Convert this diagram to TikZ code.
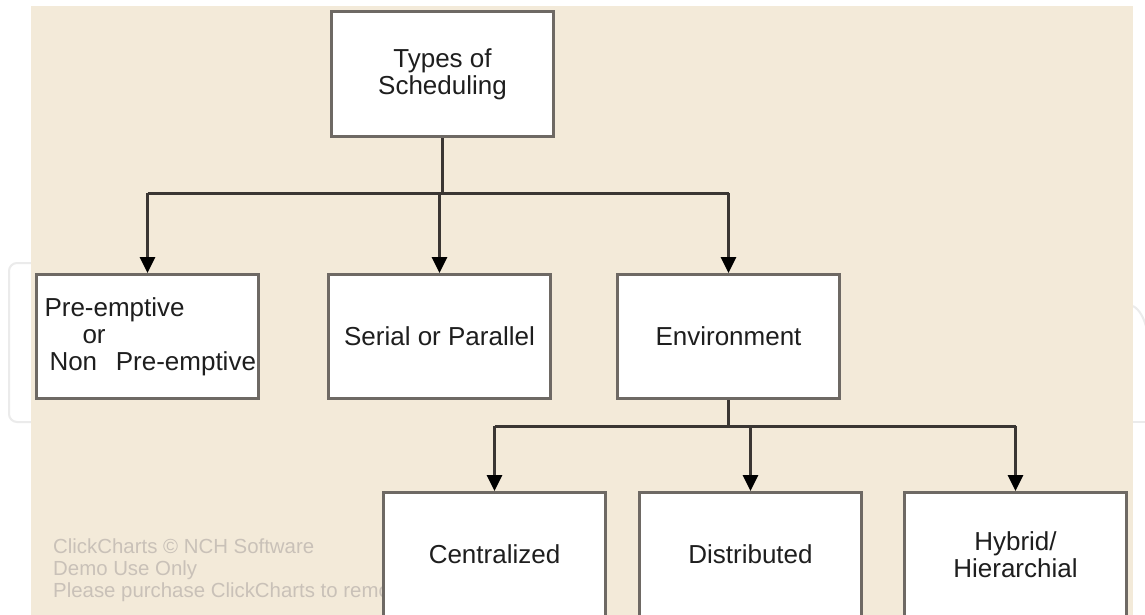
\documentclass[tikz,border=0pt]{standalone}
\usepackage{fontspec}
\setmainfont{Liberation Sans}
\usetikzlibrary{arrows.meta}
\definecolor{bg}{HTML}{F3EAD9}
\definecolor{boxline}{HTML}{6E6964}
\definecolor{connc}{HTML}{3A3633}
\definecolor{wm}{HTML}{C9C1B8}
\definecolor{txt}{HTML}{1E1E1E}
\definecolor{faint}{HTML}{EBEBEB}
\begin{document}
\begin{tikzpicture}[x=1pt,y=-1pt,
  box/.style={draw=boxline, line width=3pt, fill=white, minimum width=222pt,
    inner sep=0pt, font=\fontsize{26}{27}\selectfont, text=txt, align=center, anchor=north west},
  conn/.style={draw=connc, line width=3pt},
  arr/.style={conn, -{Triangle[width=15pt,length=16pt,color=black]}},
  wmark/.style={font=\fontsize{20.4}{22}\selectfont, text=wm, align=left, inner sep=0pt, anchor=base west}]
\useasboundingbox (0,0) rectangle (1145,615);
\fill[white] (0,0) rectangle (1145,615);
% faint outlines outside the beige panel
\draw[faint, line width=2pt, rounded corners=8pt] (60,263) -- (9,263) -- (9,422) -- (60,422);
\draw[faint, line width=2pt] (1133,306) .. controls (1140,310) and (1144,318) .. (1147,330);
\draw[faint, line width=2pt] (1133,422) -- (1147,422);
% beige panel
\fill[bg] (31,6) rectangle (1133,616);
% watermark
\node[wmark] (wm) at (53,597) {ClickCharts © NCH Software\\Demo Use Only\\Please purchase ClickCharts to remove.};
% boxes
\node[box, minimum height=125pt] (top) at (330,10) {Types of\\Scheduling};
\node[box, minimum height=124pt, text width=206pt, inner xsep=8pt, align=left] (pre) at (35,273)
  {\mbox{Pre-emptive}\\\mbox{\hspace*{38pt}or}\\\mbox{\hspace*{5pt}Non\hspace{10pt} Pre-emptive}};
\node[box, minimum height=124pt] (ser) at (327,273) {Serial or Parallel};
\node[box, minimum height=124pt] (env) at (616,273) {Environment};
\node[box, minimum height=124pt] (cen) at (382,491) {Centralized};
\node[box, minimum height=124pt] (dis) at (638,491) {Distributed};
\node[box, minimum height=124pt] (hyb) at (903,491) {Hybrid/\\Hierarchial};
% connectors level 1
\coordinate (j1) at (441,193);
\draw[conn, line width=3.5pt] (top.south) -- (top.south |- j1);
\draw[conn] (j1 -| pre.north) -- (j1 -| env.north);
\draw[arr] (j1 -| pre.north) -- (pre.north);
\draw[arr] (j1 -| ser.north) -- (ser.north);
\draw[arr] (j1 -| env.north) -- (env.north);
% connectors level 2
\coordinate (j2) at (727,426);
\draw[conn] (env.south) -- (env.south |- j2);
\draw[conn] (j2 -| cen.north) -- (j2 -| hyb.north);
\draw[arr] (j2 -| cen.north) -- (cen.north);
\draw[arr] (j2 -| dis.north) -- (dis.north);
\draw[arr] (j2 -| hyb.north) -- (hyb.north);
\end{tikzpicture}
\end{document}
